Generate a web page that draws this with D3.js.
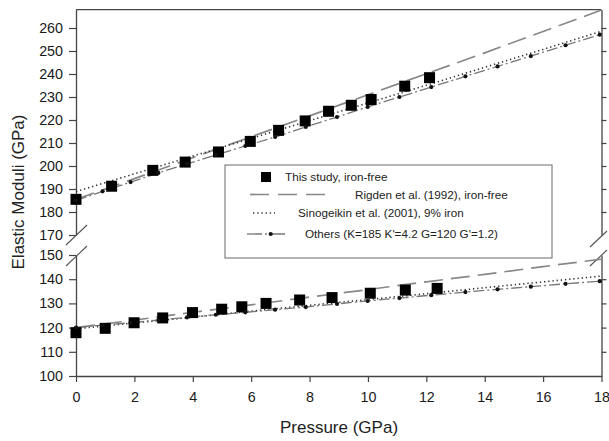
<!DOCTYPE html>
<html>
<head>
<meta charset="utf-8">
<script src="https://cdn.jsdelivr.net/npm/d3@7"></script>
<style>
  body { margin: 0; background: #fff; }
  svg { font-family: "Liberation Sans", Arial, sans-serif; }
</style>
</head>
<body>
<script>
// Chart data
var pressureTicks = [0, 2, 4, 6, 8, 10, 12, 14, 16, 18];
var upperTicks = [170, 180, 190, 200, 210, 220, 230, 240, 250, 260];
var lowerTicks = [100, 110, 120, 130, 140, 150];

// This study, iron-free (squares)
var studyPK = [0, 1.22, 2.63, 3.74, 4.88, 5.97, 6.94, 7.85, 8.65, 9.43, 10.11, 11.26, 12.11];
var studyK = [185.5, 191.2, 198.1, 201.7, 206.1, 210.7, 215.5, 219.6, 223.8, 226.4, 228.9, 234.7, 238.4];
var studyPG = [0, 1.0, 1.99, 2.97, 3.99, 4.99, 5.68, 6.51, 7.66, 8.77, 10.08, 11.28, 12.37];
var studyG = [117.9, 119.7, 122.0, 124.0, 126.2, 127.6, 128.6, 130.0, 131.4, 132.4, 134.2, 135.5, 136.2];

// Rigden et al. (1992) and Sinogeikin et al. (2001) curves
var curveP = [0, 2, 4, 6, 8, 10, 12, 14, 16, 18];
var rigdenK = [185.5, 194.5, 203.6, 212.7, 221.8, 231.0, 240.1, 249.2, 258.5, 267.8];
var rigdenG = [120.0, 123.1, 126.3, 129.4, 132.6, 135.7, 138.9, 142.0, 145.2, 148.3];
var sinoK = [188.9, 196.6, 204.3, 212.0, 219.7, 227.4, 235.1, 242.9, 250.7, 258.6];
var sinoG = [119.5, 121.9, 124.3, 126.8, 129.2, 131.6, 134.0, 136.5, 138.9, 141.3];

// Others (K=185 K'=4.2 G=120 G'=1.2)
var othersP = [0, 0.91, 1.87, 2.82, 3.80, 4.79, 5.80, 6.82, 7.87, 8.94, 9.99, 11.08, 12.17, 13.34, 14.44, 15.58, 16.77, 17.94];
var othersK = [185.0, 189.0, 193.0, 197.0, 200.9, 204.8, 208.7, 212.6, 217.0, 221.3, 225.7, 230.0, 234.3, 239.0, 243.3, 247.8, 252.5, 257.1];
var othersG = [120.0, 121.0, 122.0, 123.1, 124.2, 125.3, 126.3, 127.4, 128.5, 129.8, 131.0, 132.2, 133.4, 134.7, 135.8, 136.9, 138.1, 139.2];

var legendLabels = [
  "This study, iron-free",
  "Rigden et al. (1992), iron-free",
  "Sinogeikin et al. (2001), 9% iron",
  "Others (K=185 K'=4.2 G=120 G'=1.2)"
];

var svgWidth = 609;
var svgHeight = 441;

var svg = d3.select("body")
  .append("svg")
  .attr("width", svgWidth)
  .attr("height", svgHeight);

// scales: one x, and a broken y axis made of two pieces
var xScale = d3.scaleLinear().domain([0, 18]).range([76, 601.5]);
var yUpper = d3.scaleLinear().domain([170, 268]).range([235, 9.6]);
var yLower = d3.scaleLinear().domain([100, 150]).range([376, 255]);

var axisColor = "#444";
var plotTop = yUpper.range()[1];

// clip for the lines
svg.append("clipPath").attr("id", "plotclip")
  .append("rect")
  .attr("x", xScale(0)).attr("y", plotTop)
  .attr("width", xScale(18) - xScale(0))
  .attr("height", yLower(100) - plotTop);

function styleAxis(g) {
  g.selectAll("path").attr("stroke", axisColor).attr("stroke-width", 1.3);
  g.selectAll("line").attr("stroke", axisColor).attr("stroke-width", 1.2);
  g.selectAll("text").attr("fill", "#1a1a1a").attr("font-size", "14.3px");
}

// left axes
svg.append("g")
  .attr("transform", `translate(${xScale(0)},0)`)
  .call(d3.axisLeft(yUpper).tickValues(upperTicks).tickSize(7).tickSizeOuter(0).tickPadding(6))
  .call(styleAxis);
svg.append("g")
  .attr("transform", `translate(${xScale(0)},0)`)
  .call(d3.axisLeft(yLower).tickValues(lowerTicks).tickSize(7).tickSizeOuter(0).tickPadding(6))
  .call(styleAxis);

// right axes (ticks only)
svg.append("g")
  .attr("transform", `translate(${xScale(18)},0)`)
  .call(d3.axisRight(yUpper).tickValues(upperTicks.slice(1)).tickSize(5).tickSizeOuter(0).tickFormat(""))
  .call(styleAxis);
svg.append("g")
  .attr("transform", `translate(${xScale(18)},0)`)
  .call(d3.axisRight(yLower).tickValues([110, 120, 130, 140]).tickSize(5).tickSizeOuter(0).tickFormat(""))
  .call(styleAxis);

// bottom axis
svg.append("g")
  .attr("transform", `translate(0,${yLower(100)})`)
  .call(d3.axisBottom(xScale).tickValues(pressureTicks).tickSize(6).tickSizeOuter(0).tickPadding(10))
  .call(styleAxis);

// top border
svg.append("line")
  .attr("x1", xScale(0)).attr("x2", xScale(18))
  .attr("y1", plotTop).attr("y2", plotTop)
  .attr("stroke", axisColor).attr("stroke-width", 1.3);

// axis break marks
var breakMarks = [
  [66, 245, 87, 225], [66, 266, 87, 246],
  [590, 247, 607, 231], [590, 266, 607, 250]
];
svg.selectAll(".brk")
  .data(breakMarks)
  .enter().append("line")
  .attr("x1", d => d[0]).attr("y1", d => d[1])
  .attr("x2", d => d[2]).attr("y2", d => d[3])
  .attr("stroke", "#555").attr("stroke-width", 1.1);

// line helpers
function lineFor(yScale) {
  return d3.line().x(d => xScale(d[0])).y(d => yScale(d[1]));
}
function pairs(xs, ys) { return xs.map((x, i) => [x, ys[i]]); }

var lineG = svg.append("g").attr("clip-path", "url(#plotclip)");

var series = [
  { pts: pairs(curveP, rigdenK), y: yUpper, stroke: "#888", width: 1.7, dash: "19,8" },
  { pts: pairs(curveP, rigdenG), y: yLower, stroke: "#888", width: 1.7, dash: "19,8" },
  { pts: pairs(curveP, sinoK), y: yUpper, stroke: "#333", width: 1.6, dash: "1.3,2.9" },
  { pts: pairs(curveP, sinoG), y: yLower, stroke: "#333", width: 1.6, dash: "1.3,2.9" },
  { pts: pairs(othersP, othersK), y: yUpper, stroke: "#777", width: 1.3, dash: "11,3,2,3" },
  { pts: pairs(othersP, othersG), y: yLower, stroke: "#777", width: 1.3, dash: "11,3,2,3" }
];

series.forEach(function(s) {
  lineG.append("path")
    .datum(s.pts)
    .attr("d", lineFor(s.y))
    .attr("fill", "none")
    .attr("stroke", s.stroke)
    .attr("stroke-width", s.width)
    .attr("stroke-dasharray", s.dash);
});

// squares for this study (not clipped, they sit over the axis at P=0)
var sq = 11;
var markG = svg.append("g");
markG.selectAll(".sqK")
  .data(pairs(studyPK, studyK))
  .enter().append("rect")
  .attr("x", d => xScale(d[0]) - sq / 2)
  .attr("y", d => yUpper(d[1]) - sq / 2)
  .attr("width", sq).attr("height", sq)
  .attr("fill", "#000");
markG.selectAll(".sqG")
  .data(pairs(studyPG, studyG))
  .enter().append("rect")
  .attr("x", d => xScale(d[0]) - sq / 2)
  .attr("y", d => yLower(d[1]) - sq / 2)
  .attr("width", sq).attr("height", sq)
  .attr("fill", "#000");

// markers on "Others"
markG.selectAll(".mkK")
  .data(pairs(othersP, othersK))
  .enter().append("circle")
  .attr("cx", d => xScale(d[0])).attr("cy", d => yUpper(d[1]))
  .attr("r", 2.1).attr("fill", "#111");
markG.selectAll(".mkG")
  .data(pairs(othersP, othersG))
  .enter().append("circle")
  .attr("cx", d => xScale(d[0])).attr("cy", d => yLower(d[1]))
  .attr("r", 2.1).attr("fill", "#111");

// legend
var legend = svg.append("g");
legend.append("rect")
  .attr("x", 225).attr("y", 165)
  .attr("width", 327).attr("height", 93)
  .attr("fill", "#fff")
  .attr("stroke", "#777").attr("stroke-width", 1.1);

legend.append("rect")
  .attr("x", 261).attr("y", 172).attr("width", 10).attr("height", 10)
  .attr("fill", "#000");
legend.append("line")
  .attr("x1", 250).attr("x2", 327).attr("y1", 194.5).attr("y2", 194.5)
  .attr("stroke", "#888").attr("stroke-width", 1.7).attr("stroke-dasharray", "19,9");
legend.append("line")
  .attr("x1", 253).attr("x2", 275).attr("y1", 213).attr("y2", 213)
  .attr("stroke", "#333").attr("stroke-width", 1.6).attr("stroke-dasharray", "1.3,2.9");
legend.append("line")
  .attr("x1", 247).attr("x2", 288).attr("y1", 234).attr("y2", 234)
  .attr("stroke", "#777").attr("stroke-width", 1.3).attr("stroke-dasharray", "15,3,2,3");
legend.append("circle")
  .attr("cx", 270.7).attr("cy", 234).attr("r", 2.1).attr("fill", "#111");

var legendX = [285, 355, 298, 305];
var legendY = [177, 194.5, 213, 234];
legend.selectAll(".lt")
  .data(legendLabels)
  .enter().append("text")
  .attr("x", (d, i) => legendX[i])
  .attr("y", (d, i) => legendY[i] + 4)
  .attr("font-size", "11.7px")
  .attr("fill", "#222")
  .text(d => d);

// axis titles
svg.append("text")
  .attr("x", 339).attr("y", 433)
  .attr("text-anchor", "middle")
  .attr("font-size", "17px")
  .attr("fill", "#222")
  .text("Pressure (GPa)");

svg.append("text")
  .attr("transform", "translate(24,192) rotate(-90)")
  .attr("text-anchor", "middle")
  .attr("font-size", "17px")
  .attr("fill", "#222")
  .text("Elastic Moduli (GPa)");
</script>
</body>
</html>
